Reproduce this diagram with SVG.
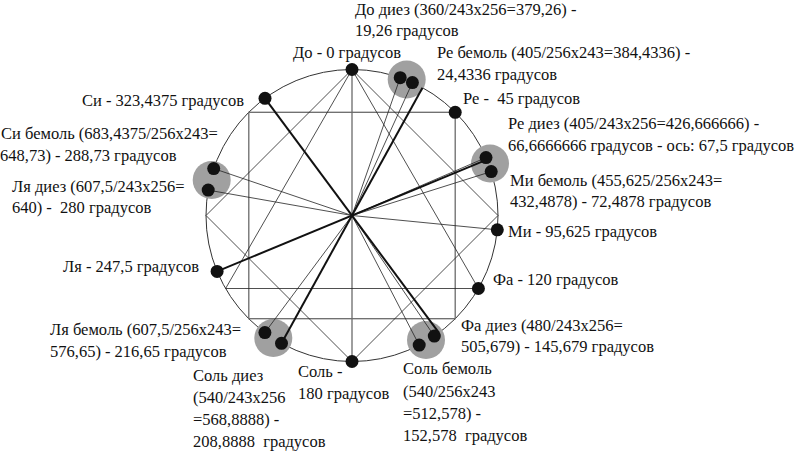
<svg xmlns="http://www.w3.org/2000/svg" width="800" height="452" viewBox="0 0 800 452" xml:space="preserve">
<style>
text{font-family:"Liberation Serif","Times New Roman",serif;font-size:16.5px;fill:#111;white-space:pre}
.ring{fill:none;stroke:#333;stroke-width:1}
.gray{fill:none;stroke:#6a6a6a;stroke-width:1.3}
.thin{fill:none;stroke:#222;stroke-width:0.8}
.thick{fill:none;stroke:#111;stroke-width:2}
.halo{fill:#a0a0a0}
.dot{fill:#111}
</style>
<rect width="800" height="452" fill="#fff"/>
<circle class="ring" cx="352" cy="215.5" r="146"/>
<g id="halos">
<circle class="halo" cx="406.7" cy="79.5" r="19"/>
<circle class="halo" cx="490" cy="163.5" r="19"/>
<circle class="halo" cx="426" cy="340" r="19"/>
<circle class="halo" cx="273.3" cy="338" r="19"/>
<circle class="halo" cx="211.7" cy="180" r="19"/>
</g>
<g id="connectors">
<rect class="gray" x="248.8" y="112.3" width="206.4" height="206.4"/>
<line class="gray" x1="352" y1="69.5" x2="352" y2="361.5"/>
<line class="thin" x1="225.6" y1="288.5" x2="478.4" y2="288.5"/>
<line class="thin" x1="352" y1="69.5" x2="225.6" y2="288.5"/>
<line class="thin" x1="352" y1="69.5" x2="478.4" y2="288.5"/>
<line class="thin" x1="352" y1="69.5" x2="498" y2="215.5"/>
<line class="thin" x1="352" y1="69.5" x2="206" y2="215.5"/>
<line class="thin" x1="498" y1="215.5" x2="352" y2="361.5"/>
<line class="thin" x1="206" y1="215.5" x2="352" y2="361.5"/>
<line class="thin" x1="352" y1="215.5" x2="400.2" y2="77.7"/>
<line class="thin" x1="352" y1="215.5" x2="412.4" y2="82.6"/>
<line class="thin" x1="352" y1="215.5" x2="486" y2="157.6"/>
<line class="thin" x1="352" y1="215.5" x2="491.2" y2="171.6"/>
<line class="thin" x1="352" y1="215.5" x2="497.3" y2="229.8"/>
<line class="thin" x1="352" y1="215.5" x2="434.3" y2="336.1"/>
<line class="thin" x1="352" y1="215.5" x2="419.2" y2="345.1"/>
<line class="thin" x1="352" y1="215.5" x2="264.9" y2="332.6"/>
<line class="thin" x1="352" y1="215.5" x2="208.2" y2="190.1"/>
<line class="thin" x1="352" y1="215.5" x2="213.7" y2="168.6"/>
<line class="thick" x1="265" y1="98.3" x2="439" y2="332.8"/>
<line class="thick" x1="217.1" y1="271.4" x2="486.9" y2="159.6"/>
<line class="thick" x1="281.5" y1="343.3" x2="422.5" y2="87.7"/>
</g>
<g id="do"><circle class="dot" cx="352" cy="69.5" r="6.5"/><text x="293" y="58">До - 0 градусов</text></g>
<g id="do-diez"><circle class="dot" cx="400.2" cy="77.7" r="6.5"/><text x="355" y="15">До диез (360/243x256=379,26) -</text><text x="355" y="36">19,26 градусов</text></g>
<g id="re-bemol"><circle class="dot" cx="412.4" cy="82.6" r="6.5"/><text x="437" y="58">Ре бемоль (405/256x243=384,4336) -</text><text x="437" y="79.5">24,4336 градусов</text></g>
<g id="re"><circle class="dot" cx="455.2" cy="112.3" r="6.5"/><text x="463" y="104">Ре -  45 градусов</text></g>
<g id="re-diez"><circle class="dot" cx="486" cy="157.6" r="6.5"/><text x="508" y="129">Ре диез (405/243x256=426,666666) -</text><text x="508" y="151">66,6666666 градусов - ось: 67,5 градусов</text></g>
<g id="mi-bemol"><circle class="dot" cx="491.2" cy="171.6" r="6.5"/><text x="510" y="185.5">Ми бемоль (455,625/256x243=</text><text x="510" y="207">432,4878) - 72,4878 градусов</text></g>
<g id="mi"><circle class="dot" cx="497.3" cy="229.8" r="6.5"/><text x="508" y="237">Ми - 95,625 градусов</text></g>
<g id="fa"><circle class="dot" cx="478.4" cy="288.5" r="6.5"/><text x="493" y="284.5">Фа - 120 градусов</text></g>
<g id="fa-diez"><circle class="dot" cx="434.3" cy="336.1" r="6.5"/><text x="461" y="330.5">Фа диез (480/243x256=</text><text x="461" y="352">505,679) - 145,679 градусов</text></g>
<g id="sol-bemol"><circle class="dot" cx="419.2" cy="345.1" r="6.5"/><text x="403" y="373.5">Соль бемоль</text><text x="403" y="396.5">(540/256x243</text><text x="403" y="418.5">=512,578) -</text><text x="403" y="440.5">152,578  градусов</text></g>
<g id="sol"><circle class="dot" cx="352" cy="361.5" r="6.5"/><text x="298" y="377">Соль -</text><text x="298" y="398.5">180 градусов</text></g>
<g id="sol-diez"><circle class="dot" cx="281.5" cy="343.3" r="6.5"/><text x="193" y="381">Соль диез</text><text x="193" y="403">(540/243x256</text><text x="193" y="425">=568,8888) -</text><text x="193" y="447">208,8888  градусов</text></g>
<g id="lya-bemol"><circle class="dot" cx="264.9" cy="332.6" r="6.5"/><text x="50" y="335">Ля бемоль (607,5/256x243=</text><text x="50" y="357">576,65) - 216,65 градусов</text></g>
<g id="lya"><circle class="dot" cx="217.1" cy="271.4" r="6.5"/><text x="63" y="272">Ля - 247,5 градусов</text></g>
<g id="lya-diez"><circle class="dot" cx="208.2" cy="190.1" r="6.5"/><text x="12" y="191.5">Ля диез (607,5/243x256=</text><text x="12" y="212.5">640) -  280 градусов</text></g>
<g id="si-bemol"><circle class="dot" cx="213.7" cy="168.6" r="6.5"/><text x="1" y="139">Си бемоль (683,4375/256x243=</text><text x="0" y="161">648,73) - 288,73 градусов</text></g>
<g id="si"><circle class="dot" cx="265" cy="98.3" r="6.5"/><text x="82" y="106">Си - 323,4375 градусов</text></g>
</svg>
